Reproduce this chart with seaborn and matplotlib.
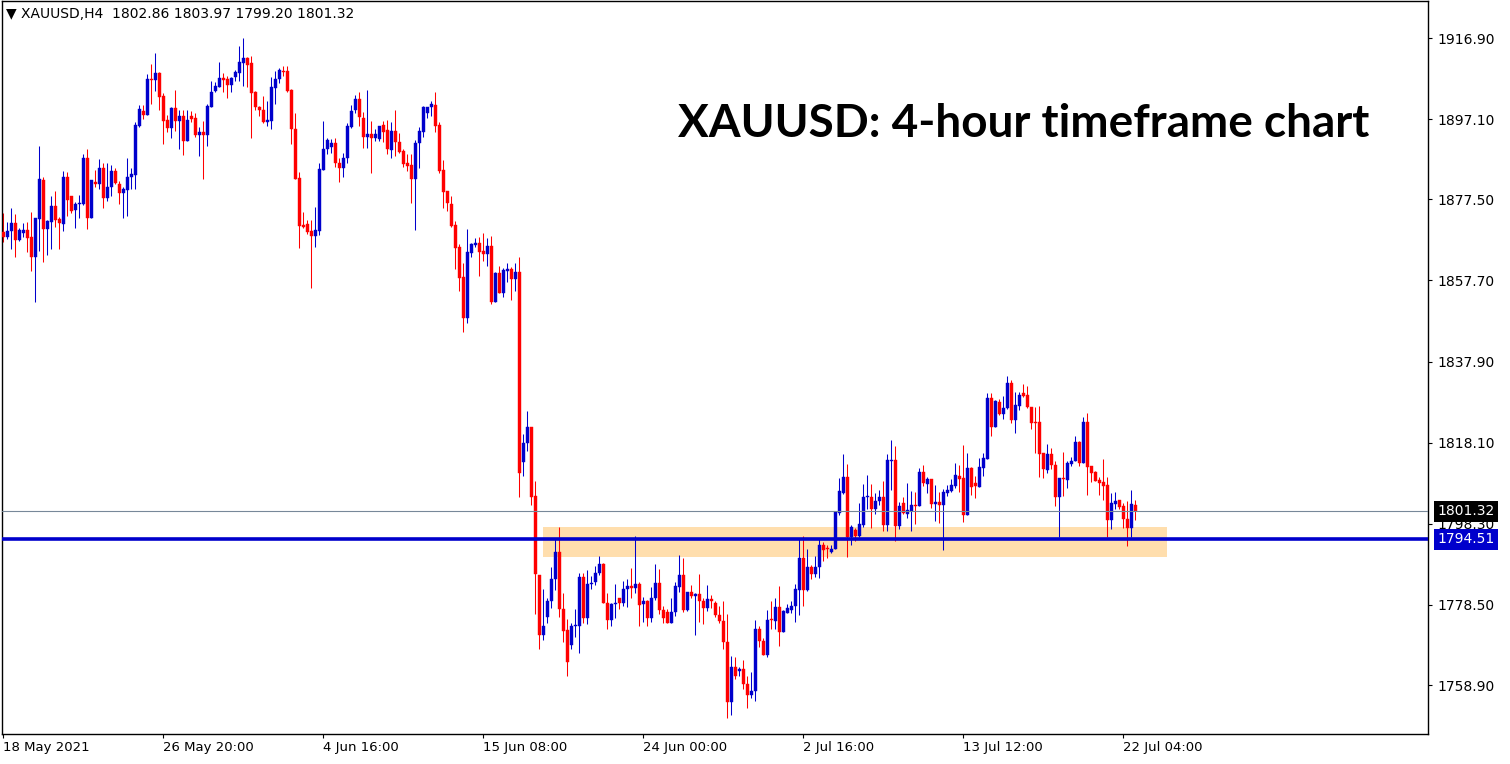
import numpy as np
import pandas as pd
import seaborn as sns
import matplotlib.pyplot as plt
import matplotlib.transforms as mtransforms
from matplotlib import font_manager

# XAUUSD H4 candles (one entry per bar, left to right)
open_ = [
    1869.6, 1868.4, 1869.8, 1871.8, 1867.6, 1869.4, 1870.0, 1868.4, 1863.5, 1872.7,
    1882.2, 1870.3, 1872.0, 1876.0, 1872.7, 1871.5, 1883.0, 1878.2, 1874.9, 1876.3,
    1876.4, 1887.7, 1873.0, 1881.7, 1881.2, 1885.2, 1877.9, 1880.4, 1884.4, 1881.2,
    1879.1, 1879.8, 1883.0, 1883.4, 1895.4, 1899.1, 1898.1, 1906.9, 1906.6, 1908.4,
    1902.8, 1896.9, 1895.0, 1899.7, 1896.7, 1897.9, 1891.8, 1897.9, 1897.4, 1893.2,
    1893.9, 1893.2, 1900.1, 1904.0, 1905.0, 1907.1, 1906.9, 1905.4, 1907.5, 1908.4,
    1910.9, 1912.1, 1910.9, 1903.8, 1900.1, 1899.3, 1896.5, 1896.7, 1904.8, 1906.8,
    1908.9, 1908.8, 1904.2, 1894.7, 1882.6, 1871.2, 1871.6, 1869.8, 1868.6, 1869.8,
    1884.7, 1889.7, 1890.4, 1891.2, 1886.5, 1885.1, 1887.5, 1895.2, 1899.3, 1901.9,
    1897.3, 1892.8, 1893.5, 1892.6, 1892.2, 1895.7, 1894.4, 1889.5, 1894.2, 1891.6,
    1889.3, 1886.5, 1885.9, 1882.5, 1891.2, 1894.0, 1898.5, 1900.0, 1900.5, 1895.7,
    1884.7, 1879.5, 1876.4, 1871.2, 1865.9, 1858.6, 1848.6, 1864.5, 1866.4, 1866.9,
    1864.9, 1864.2, 1866.2, 1852.5, 1859.6, 1854.7, 1860.1, 1860.5, 1858.0, 1859.8,
    1813.3, 1817.9, 1822.0, 1805.1, 1785.8, 1771.0, 1775.6, 1779.3, 1784.7, 1791.5,
    1777.5, 1772.3, 1768.7, 1773.2, 1773.4, 1785.2, 1775.2, 1783.5, 1784.1, 1786.2,
    1788.5, 1779.0, 1774.9, 1778.7, 1780.1, 1779.0, 1782.3, 1783.1, 1782.7, 1783.6,
    1778.7, 1779.3, 1775.2, 1780.1, 1783.9, 1777.2, 1776.8, 1774.1, 1776.7, 1782.9,
    1785.8, 1777.2, 1781.5, 1780.6, 1781.1, 1779.3, 1777.8, 1779.8, 1779.0, 1776.0,
    1774.5, 1769.5, 1754.8, 1763.4, 1762.4, 1762.8, 1759.2, 1756.5, 1757.4, 1772.6,
    1769.7, 1766.2, 1775.0, 1774.6, 1777.9, 1771.9, 1776.6, 1777.2, 1778.2, 1782.1,
    1790.0, 1782.1, 1787.6, 1786.0, 1787.6, 1793.1, 1792.1, 1791.5, 1792.1, 1801.0,
    1805.7, 1809.8, 1795.1, 1796.8, 1795.3, 1798.0, 1804.7, 1804.9, 1801.9, 1803.8,
    1804.9, 1798.0, 1813.7, 1813.9, 1797.8, 1803.3, 1800.7, 1801.5, 1802.9, 1802.7,
    1810.8, 1808.0, 1809.2, 1803.1, 1803.5, 1802.9, 1805.9, 1806.4, 1807.5, 1809.9,
    1809.5, 1800.4, 1812.0, 1808.2, 1807.3, 1812.0, 1814.1, 1828.9, 1822.0, 1827.9,
    1825.1, 1826.5, 1832.7, 1823.5, 1827.1, 1830.1, 1829.7, 1826.7, 1823.2, 1823.2,
    1815.5, 1811.4, 1815.2, 1812.6, 1804.7, 1809.5, 1809.0, 1812.9, 1813.6, 1818.3,
    1813.2, 1823.2, 1812.4, 1811.0, 1809.0, 1808.6, 1807.8, 1799.2, 1803.1, 1804.1,
    1802.5, 1799.4, 1797.3, 1802.86,
]
high = [
    1874.2, 1872.0, 1875.5, 1874.0, 1870.6, 1871.8, 1872.0, 1874.5, 1873.0, 1890.5,
    1883.0, 1872.5, 1878.2, 1879.5, 1873.3, 1884.4, 1884.3, 1878.2, 1876.8, 1878.6,
    1888.6, 1889.8, 1882.2, 1884.7, 1887.4, 1886.5, 1886.5, 1885.9, 1885.2, 1882.0,
    1880.6, 1887.7, 1885.2, 1896.3, 1900.5, 1900.5, 1908.1, 1910.5, 1913.3, 1908.7,
    1903.4, 1898.1, 1900.0, 1904.2, 1899.3, 1899.3, 1899.3, 1899.1, 1898.5, 1895.2,
    1896.6, 1900.9, 1906.4, 1906.2, 1911.0, 1908.4, 1907.7, 1907.5, 1909.1, 1914.9,
    1916.8, 1912.3, 1912.5, 1904.0, 1900.4, 1902.8, 1901.4, 1907.5, 1908.9, 1909.7,
    1910.1, 1910.1, 1904.4, 1898.7, 1884.3, 1874.5, 1872.5, 1872.5, 1875.7, 1886.5,
    1896.6, 1892.6, 1892.2, 1892.4, 1887.5, 1888.9, 1896.2, 1900.5, 1903.0, 1903.8,
    1898.9, 1904.2, 1896.7, 1894.6, 1895.4, 1896.7, 1896.9, 1896.3, 1899.3, 1893.8,
    1889.8, 1888.6, 1888.6, 1892.0, 1895.2, 1900.4, 1900.1, 1901.4, 1903.6, 1896.3,
    1887.1, 1879.5, 1878.2, 1872.2, 1866.6, 1862.0, 1870.3, 1866.9, 1868.1, 1868.4,
    1869.4, 1868.1, 1868.6, 1859.8, 1861.3, 1860.8, 1862.0, 1861.1, 1862.0, 1863.5,
    1820.2, 1825.8, 1822.0, 1808.7, 1785.8, 1782.4, 1780.1, 1787.6, 1794.7, 1797.6,
    1781.3, 1775.0, 1774.0, 1777.4, 1786.3, 1786.3, 1787.0, 1785.5, 1788.0, 1790.5,
    1788.6, 1781.3, 1778.9, 1783.5, 1780.1, 1784.3, 1784.8, 1787.4, 1795.4, 1784.1,
    1780.5, 1779.7, 1782.9, 1788.4, 1787.2, 1778.2, 1777.4, 1780.1, 1784.1, 1790.7,
    1790.0, 1781.5, 1783.3, 1781.3, 1786.0, 1780.1, 1783.3, 1780.9, 1779.3, 1778.2,
    1779.4, 1776.2, 1766.0, 1765.7, 1763.4, 1765.0, 1761.2, 1762.0, 1774.8, 1773.2,
    1770.5, 1777.1, 1779.4, 1780.1, 1783.1, 1777.2, 1778.7, 1779.5, 1783.6, 1794.6,
    1795.3, 1792.1, 1788.1, 1790.3, 1794.6, 1793.8, 1793.1, 1793.1, 1801.2, 1809.5,
    1815.3, 1812.9, 1798.1, 1797.3, 1803.3, 1808.0, 1810.2, 1808.0, 1805.9, 1806.5,
    1808.8, 1815.2, 1818.7, 1817.3, 1803.7, 1804.9, 1808.2, 1806.4, 1806.0, 1812.0,
    1812.6, 1809.8, 1809.2, 1807.8, 1806.0, 1806.8, 1807.8, 1809.1, 1813.0, 1812.6,
    1817.5, 1815.5, 1812.2, 1809.9, 1814.4, 1815.6, 1830.1, 1830.3, 1828.5, 1828.7,
    1829.5, 1834.4, 1833.4, 1830.5, 1830.5, 1832.4, 1831.9, 1826.9, 1826.9, 1827.0,
    1815.6, 1817.7, 1816.7, 1813.6, 1809.5, 1815.9, 1813.6, 1814.7, 1819.6, 1818.5,
    1824.3, 1825.4, 1812.4, 1811.2, 1809.6, 1814.1, 1809.6, 1805.7, 1806.0, 1804.1,
    1803.3, 1803.8, 1806.5, 1803.97,
]
low = [
    1867.2, 1867.7, 1865.4, 1863.5, 1867.4, 1868.4, 1864.7, 1860.1, 1852.5, 1865.0,
    1862.3, 1863.9, 1865.4, 1870.8, 1865.4, 1869.8, 1873.5, 1874.1, 1870.6, 1873.0,
    1876.1, 1870.3, 1873.0, 1880.4, 1880.0, 1875.5, 1877.1, 1878.2, 1881.2, 1876.4,
    1873.0, 1873.5, 1880.0, 1880.0, 1895.2, 1897.1, 1898.1, 1900.8, 1904.0, 1899.3,
    1891.0, 1894.0, 1892.6, 1894.3, 1889.8, 1888.3, 1891.8, 1896.5, 1892.8, 1888.2,
    1882.5, 1890.6, 1900.1, 1903.8, 1905.0, 1903.8, 1902.3, 1903.8, 1906.5, 1906.5,
    1905.3, 1905.0, 1892.6, 1899.2, 1897.9, 1896.2, 1895.5, 1894.6, 1900.9, 1905.8,
    1907.7, 1903.8, 1890.9, 1882.4, 1865.7, 1870.6, 1869.0, 1855.8, 1865.9, 1868.8,
    1884.7, 1888.6, 1888.7, 1885.3, 1881.8, 1883.0, 1886.3, 1895.0, 1898.7, 1895.5,
    1890.0, 1890.0, 1884.0, 1891.8, 1891.8, 1891.6, 1888.6, 1887.7, 1888.1, 1888.9,
    1885.5, 1884.5, 1876.7, 1869.9, 1885.2, 1892.8, 1897.4, 1897.9, 1893.9, 1884.0,
    1875.5, 1874.7, 1870.8, 1860.5, 1855.0, 1845.0, 1847.4, 1863.5, 1865.9, 1858.9,
    1862.4, 1861.3, 1851.9, 1852.5, 1854.7, 1853.6, 1857.2, 1852.9, 1855.2, 1804.7,
    1810.0, 1816.1, 1802.9, 1776.2, 1767.6, 1769.9, 1774.0, 1777.6, 1782.1, 1775.4,
    1769.3, 1761.2, 1767.6, 1770.7, 1766.6, 1774.0, 1773.7, 1782.3, 1783.3, 1785.8,
    1778.9, 1772.7, 1773.2, 1775.2, 1777.5, 1778.3, 1777.9, 1780.1, 1781.3, 1773.4,
    1774.4, 1773.2, 1774.2, 1779.7, 1776.2, 1774.0, 1774.0, 1774.0, 1775.8, 1781.5,
    1776.7, 1777.0, 1780.2, 1771.0, 1774.4, 1773.7, 1777.0, 1777.8, 1775.4, 1774.0,
    1767.6, 1750.9, 1751.6, 1760.3, 1761.0, 1757.9, 1753.4, 1755.7, 1755.1, 1768.3,
    1766.2, 1765.8, 1772.5, 1772.5, 1768.5, 1771.9, 1776.4, 1776.4, 1774.4, 1776.0,
    1778.3, 1781.9, 1784.7, 1785.2, 1785.0, 1789.3, 1789.8, 1791.1, 1792.0, 1800.3,
    1805.5, 1790.2, 1793.1, 1794.1, 1795.0, 1797.6, 1801.8, 1797.3, 1800.7, 1802.9,
    1796.6, 1796.6, 1806.5, 1794.1, 1796.9, 1800.7, 1799.6, 1796.6, 1798.2, 1802.6,
    1807.5, 1805.9, 1802.2, 1799.0, 1798.5, 1791.9, 1805.1, 1806.1, 1806.9, 1806.1,
    1798.8, 1800.4, 1805.3, 1804.5, 1807.2, 1810.0, 1814.1, 1819.7, 1822.0, 1824.8,
    1823.9, 1826.2, 1822.8, 1820.5, 1826.1, 1829.3, 1826.5, 1821.3, 1815.6, 1809.6,
    1809.4, 1810.6, 1811.6, 1802.7, 1795.0, 1805.1, 1807.1, 1812.4, 1813.6, 1812.4,
    1813.0, 1805.3, 1808.6, 1808.7, 1805.3, 1804.1, 1795.0, 1797.0, 1802.0, 1802.0,
    1797.3, 1792.9, 1795.0, 1799.20,
]
close = [
    1868.4, 1869.8, 1871.8, 1867.6, 1870.0, 1870.0, 1868.1, 1863.5, 1873.0, 1882.5,
    1870.3, 1872.3, 1876.0, 1872.5, 1871.8, 1883.0, 1877.3, 1874.7, 1876.4, 1876.7,
    1887.7, 1873.0, 1882.2, 1881.2, 1885.2, 1877.9, 1880.6, 1884.4, 1881.6, 1879.1,
    1880.0, 1883.0, 1883.7, 1895.7, 1899.6, 1898.1, 1906.9, 1906.6, 1908.4, 1902.6,
    1896.7, 1895.0, 1899.7, 1896.7, 1897.9, 1891.8, 1896.9, 1897.1, 1893.2, 1893.9,
    1893.2, 1900.3, 1903.8, 1905.2, 1907.1, 1906.6, 1905.4, 1907.2, 1908.5, 1911.0,
    1911.9, 1910.3, 1903.5, 1900.1, 1899.2, 1896.5, 1896.9, 1904.9, 1906.9, 1909.1,
    1908.7, 1904.0, 1894.6, 1882.5, 1871.1, 1870.8, 1869.6, 1868.6, 1870.0, 1884.8,
    1889.8, 1892.0, 1891.2, 1886.3, 1885.1, 1887.7, 1895.4, 1899.1, 1901.9, 1897.5,
    1892.8, 1893.5, 1892.6, 1893.5, 1895.4, 1894.0, 1889.7, 1894.2, 1891.6, 1889.1,
    1886.1, 1885.6, 1882.5, 1891.3, 1894.2, 1900.1, 1900.0, 1900.8, 1895.5, 1884.5,
    1879.4, 1876.5, 1871.1, 1865.7, 1858.4, 1848.6, 1864.7, 1866.6, 1866.9, 1864.7,
    1864.2, 1866.2, 1852.5, 1859.4, 1854.7, 1860.2, 1860.5, 1858.0, 1859.8, 1810.6,
    1818.1, 1822.0, 1804.9, 1785.9, 1771.0, 1773.2, 1779.5, 1784.8, 1791.5, 1777.4,
    1772.2, 1764.6, 1773.4, 1773.6, 1785.4, 1775.2, 1783.6, 1783.7, 1786.3, 1788.5,
    1778.9, 1774.9, 1778.7, 1779.0, 1779.0, 1782.4, 1783.1, 1782.7, 1783.6, 1778.4,
    1779.3, 1775.2, 1780.1, 1783.9, 1777.2, 1775.2, 1774.1, 1776.8, 1783.1, 1785.8,
    1777.2, 1781.5, 1780.6, 1781.1, 1779.3, 1777.8, 1779.8, 1779.3, 1776.0, 1774.5,
    1769.5, 1754.8, 1763.4, 1761.1, 1762.8, 1759.2, 1756.5, 1757.4, 1772.6, 1769.7,
    1766.2, 1774.8, 1774.8, 1777.9, 1771.9, 1777.0, 1777.8, 1778.3, 1782.4, 1790.0,
    1782.1, 1787.8, 1786.0, 1787.8, 1793.1, 1791.9, 1792.0, 1792.0, 1801.1, 1806.3,
    1809.8, 1795.1, 1797.6, 1795.3, 1798.2, 1804.9, 1804.9, 1801.9, 1803.8, 1804.9,
    1798.0, 1813.9, 1813.9, 1797.8, 1802.7, 1800.8, 1801.6, 1802.9, 1802.7, 1810.8,
    1808.3, 1809.2, 1803.1, 1803.5, 1802.9, 1806.0, 1806.5, 1807.8, 1810.2, 1809.2,
    1800.4, 1811.8, 1807.3, 1807.5, 1812.1, 1814.3, 1829.1, 1822.0, 1828.3, 1825.1,
    1826.6, 1832.7, 1823.5, 1827.3, 1829.7, 1829.6, 1826.7, 1823.0, 1823.0, 1815.3,
    1811.7, 1815.2, 1812.6, 1804.7, 1809.5, 1809.1, 1813.2, 1813.6, 1818.3, 1813.0,
    1823.2, 1812.2, 1810.6, 1808.8, 1808.3, 1807.6, 1799.2, 1803.4, 1803.8, 1802.3,
    1799.4, 1797.3, 1803.1, 1801.32,
]

date_bars = [0, 40, 80, 120, 160, 200, 240, 280]
date_labels = ['18 May 2021', '26 May 20:00', '4 Jun 16:00', '15 Jun 08:00',
               '24 Jun 00:00', '2 Jul 16:00', '13 Jul 12:00', '22 Jul 04:00']
price_ticks = [1916.90, 1897.10, 1877.50, 1857.70, 1837.90, 1818.10, 1798.30, 1778.50, 1758.90]

bid_price = 1801.32
support_level = 1794.51
zone_bars = [135, 291]
zone_low, zone_high = 1790.2, 1797.5

header = '\u25bc XAUUSD,H4  1802.86 1803.97 1799.20 1801.32'
title = 'XAUUSD: 4-hour timeframe chart'

BULL = '#0000CC'
BEAR = '#FF0000'

sns.set_theme(style='white')
plt.rcParams['font.family'] = ['DejaVu Sans']

df = pd.DataFrame({'open': open_, 'high': high, 'low': low, 'close': close})
df['bar'] = np.arange(len(df))
df['color'] = np.where(df['close'] >= df['open'], BULL, BEAR)
df['body_lo'] = df[['open', 'close']].min(axis=1)
df['body_h'] = np.maximum((df['close'] - df['open']).abs(), 0.25)

fig = plt.figure(figsize=(15.1, 7.64), dpi=100)
ax = fig.add_axes([2 / 1510, 30 / 764, 1426 / 1510, 733 / 764])

# support zone behind the candles
ax.fill_between(zone_bars, zone_low, zone_high, color='#FFDEAD', lw=0, zorder=1)

ax.vlines(df['bar'], df['low'], df['high'], colors=df['color'], lw=0.75, zorder=2)
ax.bar(df['bar'], df['body_h'], bottom=df['body_lo'], width=0.75,
       color=df['color'], edgecolor=df['color'], lw=0.3, zorder=3)

ax.axhline(bid_price, color='#778899', lw=0.8, zorder=4)
ax.axhline(support_level, color=BULL, lw=2.6, zorder=5)

ax.set_xlim(-0.25, 356.2)
ax.set_ylim(1746.94, 1925.94)

ax.yaxis.tick_right()
ax.set_yticks(price_ticks)
ax.set_yticklabels([f'{p:.2f}' for p in price_ticks])
ax.set_xticks(date_bars)
ax.set_xticklabels(date_labels)
for lbl in ax.get_xticklabels():
    lbl.set_ha('left')
ax.tick_params(axis='y', which='both', right=True, left=False, direction='out',
               length=3, width=0.8, pad=3.5, labelsize=10, colors='black')
ax.tick_params(axis='x', which='both', bottom=True, direction='out',
               length=3, width=0.8, pad=2, labelsize=9.5, colors='black')
for sp in ax.spines.values():
    sp.set_color('black')
    sp.set_linewidth(1)
    sp.set_visible(True)
ax.grid(False)

# price boxes on the right axis
trans = mtransforms.blended_transform_factory(ax.transAxes, ax.transData)
ax.text(1.0063, bid_price, f'{bid_price:.2f}', transform=trans, color='white',
        fontsize=10, ha='left', va='center', clip_on=False, zorder=10,
        bbox=dict(boxstyle='square,pad=0.25', fc='black', ec='none'))
ax.text(1.0063, support_level, f'{support_level:.2f}', transform=trans, color='white',
        fontsize=10, ha='left', va='center', clip_on=False, zorder=10,
        bbox=dict(boxstyle='square,pad=0.25', fc=BULL, ec='none'))

ax.text(0.003, 0.982, header, transform=ax.transAxes, fontsize=10,
        ha='left', va='center', color='black', zorder=10)

# big caption: pick a narrow-ish family, then fit it to the caption width
names = {f.name for f in font_manager.fontManager.ttflist}
title_family = ['DejaVu Sans']
for cand in ['Liberation Sans Narrow', 'Lato', 'Roboto']:
    if cand in names:
        title_family = [cand, 'DejaVu Sans']
        break
cap = ax.text(0.474, 0.832, title, transform=ax.transAxes, fontsize=30,
              family=title_family, fontweight='bold', ha='left', va='center',
              color='black', zorder=10)
renderer = fig.canvas.get_renderer()
w = cap.get_window_extent(renderer).width
cap.set_fontsize(30 * 692 / w)

fig.savefig('out.png', dpi=100, facecolor='white')
